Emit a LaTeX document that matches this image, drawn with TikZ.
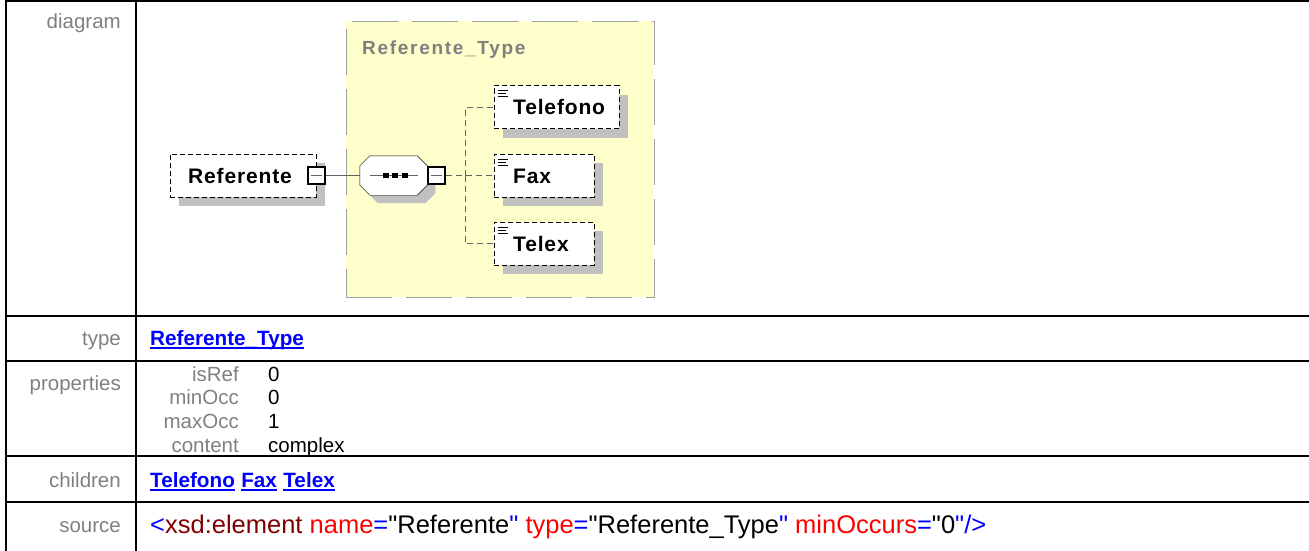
\documentclass[tikz,border=0pt]{standalone}
\usepackage{fontspec}
\setmainfont{Liberation Sans}
\newfontfamily\elemfont[LetterSpace=4]{Liberation Sans}
\newfontfamily\typefont[LetterSpace=9]{Liberation Sans}
\newfontfamily\srcfont[Ligatures=TeXOff]{Liberation Sans}
\usetikzlibrary{positioning, calc, shadows}
\definecolor{lblgray}{RGB}{128, 128, 128}
\definecolor{typeyellow}{RGB}{255, 255, 204}
\definecolor{typeborder}{RGB}{160, 160, 160}
\definecolor{shadowgray}{RGB}{192, 192, 192}
\definecolor{treegray}{RGB}{100, 100, 100}
\definecolor{linkblue}{RGB}{0, 0, 255}
\definecolor{xmlred}{RGB}{255, 0, 0}
\definecolor{xmldark}{RGB}{128, 0, 0}

\begin{document}
\begin{tikzpicture}[x=1pt, y=-1pt,
  rule/.style={line width=2pt, black},
  rowlbl/.style={anchor=base east, inner sep=0pt, text=lblgray, font=\fontsize{20.5}{24}\selectfont},
  propval/.style={anchor=base west, inner sep=0pt, font=\fontsize{20.5}{24}\selectfont},
  link/.style={anchor=base west, inner sep=0pt, text=linkblue, font=\fontsize{20.7}{24}\selectfont\bfseries},
  ulink/.style={line width=1.6pt, linkblue},
  typebox/.style={draw=typeborder, fill=typeyellow, dash pattern=on 46pt off 14pt,
                  minimum width=308pt, minimum height=276pt, anchor=north west, inner sep=0pt},
  elem/.style={draw, dash pattern=on 5pt off 3pt, fill=white, minimum height=43pt, inner sep=0pt,
               drop shadow={shadow xshift=9pt, shadow yshift=-9pt, fill=shadowgray, opacity=1}},
  leaf/.style={elem, path picture={
      \draw[solid, line width=0.8pt] ([shift={(4pt,-5pt)}]path picture bounding box.north west) -- +(10pt,0pt);
      \draw[solid, line width=0.8pt] ([shift={(4pt,-8pt)}]path picture bounding box.north west) -- +(8pt,0pt);
      \draw[solid, line width=0.8pt] ([shift={(4pt,-11pt)}]path picture bounding box.north west) -- +(10pt,0pt);}},
  elemlbl/.style={inner sep=0pt, text height=15pt, text depth=0pt, font=\elemfont\fontsize{21}{25}\selectfont\bfseries},
  minbox/.style={draw, line width=2pt, fill=white, minimum size=17pt, inner sep=0pt, path picture={
      \draw[solid, line width=1pt, treegray] ([xshift=3pt]path picture bounding box.west) -- ([xshift=-3pt]path picture bounding box.east);}},
  seqbox/.style={minimum width=67pt, minimum height=39pt, inner sep=0pt},
  conn/.style={line width=1pt, treegray},
  tree/.style={line width=1pt, treegray, dash pattern=on 6pt off 4pt}
]
  \useasboundingbox (0,0) rectangle (1309,551);

  % table
  \draw[rule] (5,1.5) -- (1309,1.5);
  \draw[rule] (6,0.5) -- (6,551);
  \draw[rule] (136,0.5) -- (136,551);
  \draw[rule] (5,316) -- (1309,316);
  \draw[rule] (5,361) -- (1309,361);
  \draw[rule] (5,456) -- (1309,456);
  \draw[rule] (5,502) -- (1309,502);

  \node[rowlbl] (lbl-diagram) at (121,29) {diagram};
  \node[rowlbl] (lbl-type) at (121,345) {type};
  \node[rowlbl] (lbl-props) at (121,390) {properties};
  \node[rowlbl] (lbl-children) at (121,487) {children};
  \node[rowlbl] (lbl-source) at (121,532) {source};

  % diagram
  \node[typebox] (reftype) at (346,21) {};
  \node[anchor=base west, inner sep=0pt, text=lblgray, font=\typefont\fontsize{19}{22}\selectfont\bfseries]
    (reftype-lbl) at (362,55) {Referente\_Type};

  \node[elem, minimum width=146pt, anchor=west] (ref) at (170,175.5) {};
  \node[elemlbl, right=18pt of ref.west] (ref-lbl) {Referente};
  \node[minbox] (refmin) at (ref.east) {};

  \node[seqbox, right=34pt of refmin] (seq) {};
  \draw[fill=white, drop shadow={shadow xshift=8pt, shadow yshift=-8pt, fill=shadowgray, opacity=1}]
    ([xshift=10pt]seq.north west) -- ([xshift=-10pt]seq.north east) -- ([yshift=-10pt]seq.north east)
    -- ([yshift=10pt]seq.south east) -- ([xshift=-10pt]seq.south east) -- ([xshift=10pt]seq.south west)
    -- ([yshift=10pt]seq.south west) -- ([yshift=-10pt]seq.north west) -- cycle;
  \draw[conn] ([xshift=10pt]seq.west) -- ([xshift=-9pt]seq.east);
  \fill ([xshift=-8pt]seq.center) +(-3pt,-2.5pt) rectangle +(3pt,2.5pt);
  \fill ([xshift=1.5pt]seq.center) +(-3pt,-2.5pt) rectangle +(3pt,2.5pt);
  \fill ([xshift=11pt]seq.center) +(-3pt,-2.5pt) rectangle +(3pt,2.5pt);
  \node[minbox, right=0pt of seq] (seqmin) {};
  \coordinate[right=19pt of seqmin] (fork);

  \node[leaf, minimum width=125pt, anchor=west] (telefono) at (494,107) {};
  \node[elemlbl, right=19pt of telefono.west] (telefono-lbl) {Telefono};
  \node[leaf, minimum width=100pt, anchor=west] (fax) at (494,175.5) {};
  \node[elemlbl, right=19pt of fax.west] (fax-lbl) {Fax};
  \node[leaf, minimum width=100pt, anchor=west] (telex) at (494,243.5) {};
  \node[elemlbl, right=19pt of telex.west] (telex-lbl) {Telex};

  \draw[conn] (refmin) -- (seq);
  \draw[tree] (seqmin) -- (fork) -- (fax);
  \draw[tree] (fork) |- (telefono.west);
  \draw[tree] (fork) |- (telex.west);

  % type row
  \node[link] (type-link) at (150,345) {Referente\_Type};
  \draw[ulink] ([yshift=-3pt]type-link.base west) -- ([yshift=-3pt]type-link.base east);

  % properties row
  \node[rowlbl] (key-isref) at (239,381) {isRef};
  \node[propval, base right=29pt of key-isref] (val-isref) {0};
  \node[rowlbl] (key-minocc) at (239,404.5) {minOcc};
  \node[propval, base right=29pt of key-minocc] (val-minocc) {0};
  \node[rowlbl] (key-maxocc) at (239,428) {maxOcc};
  \node[propval, base right=29pt of key-maxocc] (val-maxocc) {1};
  \node[rowlbl] (key-content) at (239,452) {content};
  \node[propval, base right=29pt of key-content] (val-content) {complex};

  % children row
  \node[link] (telefono-link) at (150,487) {Telefono};
  \node[link, base right=6pt of telefono-link] (fax-link) {Fax};
  \node[link, base right=6pt of fax-link] (telex-link) {Telex};
  \draw[ulink] ([yshift=-3pt]telefono-link.base west) -- ([yshift=-3pt]telefono-link.base east);
  \draw[ulink] ([yshift=-3pt]fax-link.base west) -- ([yshift=-3pt]fax-link.base east);
  \draw[ulink] ([yshift=-3pt]telex-link.base west) -- ([yshift=-3pt]telex-link.base east);

  % source row
  \node[anchor=base west, inner sep=0pt, font=\srcfont\fontsize{25.5}{30}\selectfont] (src) at (150,533)
    {\textcolor{linkblue}{<}\textcolor{xmldark}{xsd:element} \textcolor{xmlred}{name}\textcolor{linkblue}{=}"Referente\textcolor{linkblue}{"}
     \textcolor{xmlred}{type}\textcolor{linkblue}{=}"Referente\_Type\textcolor{linkblue}{"}
     \textcolor{xmlred}{minOccurs}\textcolor{linkblue}{=}"0\textcolor{linkblue}{"/>}};
\end{tikzpicture}
\end{document}
